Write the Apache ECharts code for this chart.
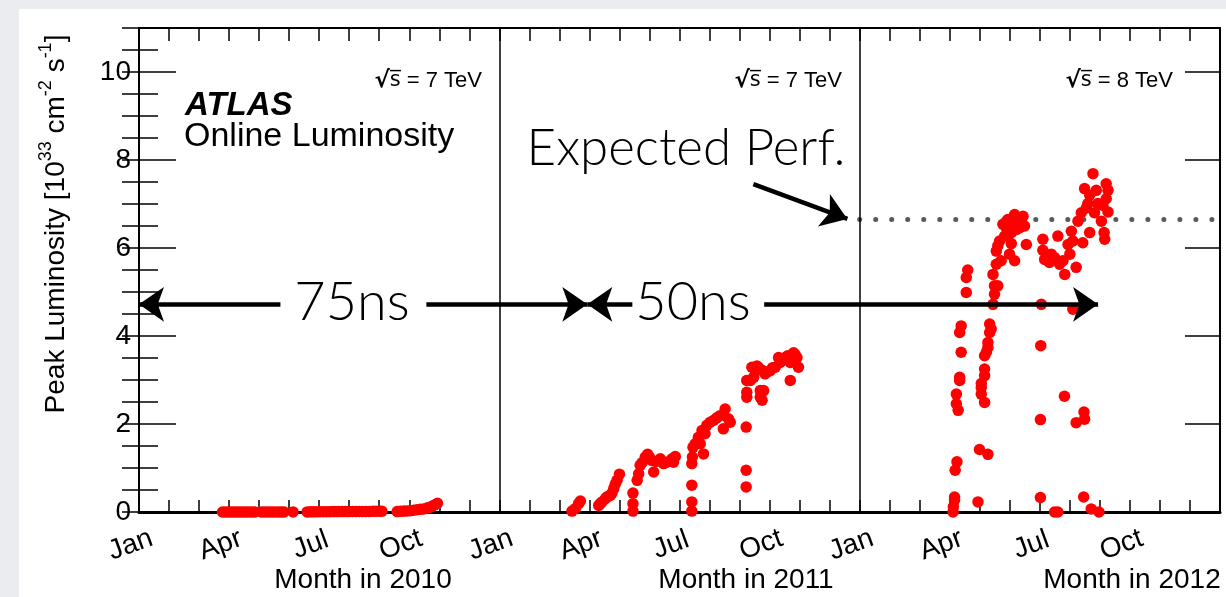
<!DOCTYPE html>
<html>
<head>
<meta charset="utf-8">
<script src="https://cdn.jsdelivr.net/npm/echarts@6/dist/echarts.min.js"></script>
<style>
  html, body { margin: 0; padding: 0; width: 1226px; height: 597px; overflow: hidden; background: #eaecef; }
  #sheet { position: absolute; left: 19px; top: 9px; width: 1207px; height: 588px; background: #ffffff; }
  #chart { position: absolute; left: 0; top: 0; width: 1226px; height: 597px; }
</style>
</head>
<body>
<div id="sheet"></div>
<div id="chart"></div>
<script>
// Peak luminosity per fill: [month of the year (fractional), peak luminosity in 1e33 cm^-2 s^-1]
const lumi2010 = [
  [2.78,0.00001],[2.87,0.00001],[2.96,0.00002],[3.05,0.00002],[3.14,0.00003],[3.23,0.00005],[3.32,0.00006],
  [3.41,0.0001],[3.50,0.0001],[3.59,0.0001],[3.68,0.0002],[3.77,0.0002],[3.86,0.0002],
  [4.08,0.0003],[4.17,0.0004],[4.27,0.0005],[4.37,0.0007],[4.46,0.0009],[4.56,0.001],[4.66,0.001],[4.75,0.001],[4.83,0.0012],
  [5.13,0.002],
  [5.60,0.002],[5.70,0.003],[5.80,0.003],[5.91,0.004],[6.02,0.005],[6.13,0.006],[6.24,0.007],[6.35,0.008],[6.46,0.009],[6.56,0.009],[6.65,0.01],
  [6.77,0.01],[6.88,0.01],[6.99,0.01],[7.11,0.011],[7.22,0.012],[7.33,0.013],[7.45,0.013],[7.56,0.014],[7.67,0.014],[7.79,0.015],[7.90,0.016],[8.01,0.017],[8.09,0.017],
  [8.60,0.01],[8.71,0.015],[8.82,0.02],[8.93,0.025],[9.04,0.03],[9.15,0.04],[9.26,0.05],[9.37,0.06],[9.48,0.07],[9.59,0.09],[9.66,0.1],[9.74,0.12],[9.81,0.15],[9.88,0.17],[9.94,0.2]
];
const lumi2011 = [
  [2.42,0.02],[2.53,0.08],[2.64,0.19],[2.70,0.25],
  [3.31,0.15],[3.36,0.19],[3.42,0.23],[3.53,0.30],[3.58,0.34],[3.64,0.36],[3.70,0.38],[3.75,0.43],[3.81,0.53],[3.86,0.63],[3.92,0.72],[4.00,0.86],
  [4.45,0.02],[4.45,0.19],[4.45,0.43],[4.59,0.72],[4.64,0.87],[4.69,1.06],[4.75,1.12],[4.86,1.25],[4.94,1.31],[5.00,1.24],[5.08,1.17],[5.14,0.91],
  [5.22,1.15],[5.36,1.21],[5.47,1.10],[5.58,1.13],[5.75,1.21],[5.80,1.13],[5.86,1.26],
  [6.41,0.02],[6.41,0.23],[6.41,0.61],[6.41,1.10],[6.43,1.25],[6.45,1.47],[6.52,1.55],[6.63,1.70],[6.69,1.55],[6.75,1.85],[6.80,1.32],[6.85,1.78],
  [6.91,1.97],[7.02,2.04],[7.13,2.08],[7.24,2.14],[7.35,2.19],[7.46,1.89],[7.52,2.34],[7.63,2.12],[7.69,2.04],
  [8.22,0.57],[8.22,0.95],[8.22,1.93],[8.24,2.61],[8.24,2.72],[8.24,2.99],[8.36,2.99],[8.41,3.29],[8.47,3.06],[8.50,3.25],[8.58,3.32],[8.63,3.28],
  [8.69,2.61],[8.69,2.76],[8.75,2.54],[8.75,3.22],[8.80,2.76],[8.85,3.14],[8.90,3.18],[9.02,3.21],[9.10,3.28],[9.19,3.29],[9.30,3.51],[9.35,3.40],
  [9.40,3.44],[9.52,3.51],[9.60,3.55],[9.69,2.99],[9.69,3.40],[9.80,3.62],[9.85,3.58],[9.91,3.51],[9.96,3.29]
];
const lumi2012 = [
  [3.11,0.0],[3.12,0.12],[3.16,0.27],[3.16,0.34],[3.18,0.95],[3.24,1.14],[3.28,2.31],[3.22,2.46],[3.22,2.68],[3.33,2.99],[3.33,3.06],
  [3.38,3.63],[3.33,4.08],[3.38,4.23],[3.55,4.99],[3.55,5.33],[3.60,5.50],
  [3.94,0.23],[3.99,1.42],[4.27,1.31],[4.16,2.49],[4.05,2.68],[4.05,2.83],[4.05,2.92],[4.16,3.10],[4.16,3.25],[4.16,3.55],[4.22,3.63],
  [4.27,3.74],[4.27,3.85],[4.33,4.08],[4.38,4.16],[4.33,4.27],[4.44,4.72],[4.49,4.95],[4.49,5.14],[4.60,5.14],[4.44,5.40],[4.55,5.63],
  [4.55,5.93],[4.60,6.05],[4.71,5.71],[4.66,6.16],[4.83,6.27],[4.77,6.54],[4.88,6.46],[4.94,6.65],[4.99,5.86],[5.05,6.10],[5.05,6.35],
  [5.10,6.57],[5.16,6.76],[5.16,5.71],[5.22,6.42],[5.27,6.61],[5.33,6.46],[5.38,6.60],[5.44,6.72],[5.49,6.50],[5.55,6.08],
  [6.02,0.33],[6.02,2.10],[6.03,3.78],[6.05,4.72],[6.10,5.95],[6.10,6.20],[6.16,5.74],[6.32,5.67],[6.38,5.86],[6.49,0.0],[6.49,5.78],
  [6.60,0.0],[6.60,6.27],[6.66,5.63],[6.77,5.71],[6.82,2.63],[6.83,5.40],[6.94,6.08],[7.00,5.86],[7.05,6.38],[7.10,4.61],[7.10,6.16],
  [7.21,2.03],[7.21,5.56],[7.27,6.61],[7.38,6.80],[7.43,6.12],[7.46,0.34],[7.47,2.27],[7.49,2.11],[7.49,7.35],[7.55,6.91],[7.60,7.01],
  [7.66,6.35],[7.66,7.20],[7.71,0.07],[7.77,7.69],[7.82,6.80],[7.88,7.31],[7.93,7.01],[7.97,0.0],[8.05,6.61],[8.10,6.97],[8.14,6.35],
  [8.16,6.20],[8.21,7.12],[8.21,7.46],[8.27,6.82],[8.27,7.31]
];

const years = [2010, 2011, 2012];
const energies = ['7 TeV', '7 TeV', '8 TeV'];
const monthLabels = ['Jan', 'Apr', 'Jul', 'Oct'];
const expectedPeak = 6.65;      // expected 2012 performance
const arrowLevel = 4.72;        // height of the bunch-spacing arrows

const SANS = '"Liberation Sans", Arial, Helvetica, sans-serif';
const THIN = 'Lato, "Open Sans", "Noto Sans", sans-serif';

// one continuous month axis: 2010 -> 0..12, 2011 -> 12..24, 2012 -> 24..36
const points = [];
[lumi2010, lumi2011, lumi2012].forEach((rows, k) => {
  rows.forEach(([m, l]) => points.push([m + 12 * k, l]));
});

const chart = echarts.init(document.getElementById('chart'), null, { renderer: 'canvas' });

const black = '#000000';
const tickStyle = { color: black, width: 1.5 };

const xBase = {
  type: 'value', min: 0, max: 36, interval: 1,
  splitLine: { show: false }, minorTick: { show: false }
};
const yBase = {
  type: 'value', min: 0, max: 11,
  splitLine: { show: false }, minorTick: { show: false }
};

const option = {
  animation: false,
  backgroundColor: 'transparent',
  grid: { left: 139, top: 28, right: 6, bottom: 85, containLabel: false, outerBoundsMode: 'none' },
  xAxis: [
    Object.assign({}, xBase, {
      position: 'bottom',
      axisLine: { show: true, onZero: false, lineStyle: { color: black, width: 3 } },
      axisTick: { show: true, inside: true, length: 12, lineStyle: tickStyle },
      axisLabel: {
        show: true, color: black, fontFamily: SANS, fontSize: 28, rotate: 20,
        align: 'center', verticalAlign: 'middle', margin: 30, padding: [0, 18, 0, 0],
        hideOverlap: false,
        formatter: v => {
          const m = Math.round(v);
          return (m % 3 === 0 && m < 36) ? monthLabels[(m % 12) / 3] : '';
        }
      }
    }),
    Object.assign({}, xBase, {
      position: 'top',
      axisLine: { show: true, onZero: false, lineStyle: { color: black, width: 2 } },
      axisTick: { show: true, inside: true, length: 13, lineStyle: tickStyle },
      axisLabel: { show: false }
    })
  ],
  yAxis: [
    Object.assign({}, yBase, {
      position: 'left', interval: 2,
      axisLine: { show: true, onZero: false, lineStyle: { color: black, width: 2 } },
      axisTick: { show: true, inside: true, length: 37, lineStyle: tickStyle },
      axisLabel: {
        show: true, color: black, fontFamily: SANS, fontSize: 28, margin: 8,
        showMaxLabel: false, formatter: v => (v > 10 ? '' : String(v))
      }
    }),
    Object.assign({}, yBase, {
      position: 'left', interval: 0.5,
      axisLine: { show: false },
      axisTick: { show: true, inside: true, length: 19, lineStyle: tickStyle },
      axisLabel: { show: false }
    }),
    Object.assign({}, yBase, {
      position: 'right', interval: 2,
      axisLine: { show: true, onZero: false, lineStyle: { color: black, width: 2 } },
      axisTick: { show: true, inside: true, length: 35, lineStyle: tickStyle },
      axisLabel: { show: false }
    }),
    Object.assign({}, yBase, {
      position: 'right', interval: 0.5,
      axisLine: { show: false },
      axisTick: { show: true, inside: true, length: 17, lineStyle: tickStyle },
      axisLabel: { show: false }
    })
  ],
  series: [
    {
      name: 'Expected Perf.', type: 'line', xAxisIndex: 0, yAxisIndex: 0,
      data: [[24, expectedPeak], [36, expectedPeak]],
      symbol: 'none', silent: true, z: 1,
      lineStyle: { color: '#595959', width: 5, type: [0.01, 16], cap: 'round' },
      markLine: {
        silent: true, symbol: ['none', 'none'], label: { show: false },
        lineStyle: { color: black, width: 1.5, type: 'solid' },
        emphasis: { disabled: true },
        data: [{ xAxis: 12 }, { xAxis: 24 }]
      }
    },
    {
      name: 'Peak Luminosity', type: 'scatter', xAxisIndex: 0, yAxisIndex: 0,
      data: points, symbol: 'circle', symbolSize: 11.5, silent: true, z: 3,
      itemStyle: { color: '#ff0000', opacity: 1 }
    },
    {
      name: 'annotations', type: 'line', xAxisIndex: 0, yAxisIndex: 0, data: [],
      markLine: {
        silent: true, z: 6, symbolSize: [26, 25], label: { show: false },
        lineStyle: { color: black, width: 4.5, type: 'solid', opacity: 1 },
        emphasis: { disabled: true },
        data: [
          [{ coord: [0, arrowLevel], symbol: 'arrow' }, { coord: [4.71, arrowLevel], symbol: 'none' }],
          [{ coord: [9.57, arrowLevel], symbol: 'none' }, { coord: [14.93, arrowLevel], symbol: 'arrow' }],
          [{ coord: [14.93, arrowLevel], symbol: 'arrow' }, { coord: [16.43, arrowLevel], symbol: 'none' }],
          [{ coord: [20.82, arrowLevel], symbol: 'none' }, { coord: [31.94, arrowLevel], symbol: 'arrow' }],
          [{ coord: [20.46, 7.45], symbol: 'none' }, { coord: [23.59, 6.66], symbol: 'arrow' }]
        ]
      }
    }
  ],
  graphic: []
};

// text annotations
const g = option.graphic;
function txt(x, y, text, font, align, extra) {
  g.push({
    type: 'text', x: x, y: y, z: 100, silent: true,
    style: Object.assign({ text: text, font: font, fill: black, align: align, verticalAlign: 'middle',
      textAlign: align, textVerticalAlign: 'middle' }, extra || {})
  });
}
txt(185, 106, 'ATLAS', 'italic bold 33px ' + SANS, 'left');
txt(184, 137, 'Online Luminosity', '34px ' + SANS, 'left');

const energyRight = [482, 842, 1173];
energies.forEach((e, i) => {
  g.push({
    type: 'text', x: energyRight[i], y: 81, z: 100, silent: true,
    style: {
      text: '{r|\u221A}{o|s\u0305} = ' + e, font: '22px ' + SANS, fill: black,
      align: 'right', verticalAlign: 'middle', textAlign: 'right', textVerticalAlign: 'middle',
      rich: {
        r: { fontFamily: '"DejaVu Sans"', fontSize: 23, fontWeight: 'bold', fill: black },
        o: { fontFamily: '"DejaVu Sans"', fontSize: 21, fill: black }
      }
    }
  });
});

const titleCenter = [363, 746, 1132];
years.forEach((y, i) => txt(titleCenter[i], 580, 'Month in ' + y, '28px ' + SANS, 'center'));

txt(352, 303, '75ns', '300 54px ' + THIN, 'center');
txt(693, 303, '50ns', '300 54px ' + THIN, 'center');
txt(686, 149, 'Expected Perf.', '300 51px ' + THIN, 'center');

// vertical axis title with superscripts
g.push({
  type: 'text', x: 56, y: 224, rotation: Math.PI / 2, z: 100, silent: true,
  style: {
    text: 'Peak Luminosity [10{s|33} cm{s|-2} s{s|-1}]',
    font: '28px ' + SANS, fill: black, lineHeight: 38,
    align: 'center', verticalAlign: 'middle', textAlign: 'center', textVerticalAlign: 'middle',
    rich: { s: { fontSize: 18, fontFamily: SANS, lineHeight: 18, verticalAlign: 'top', fill: black } }
  }
});

chart.setOption(option);
</script>
</body>
</html>
